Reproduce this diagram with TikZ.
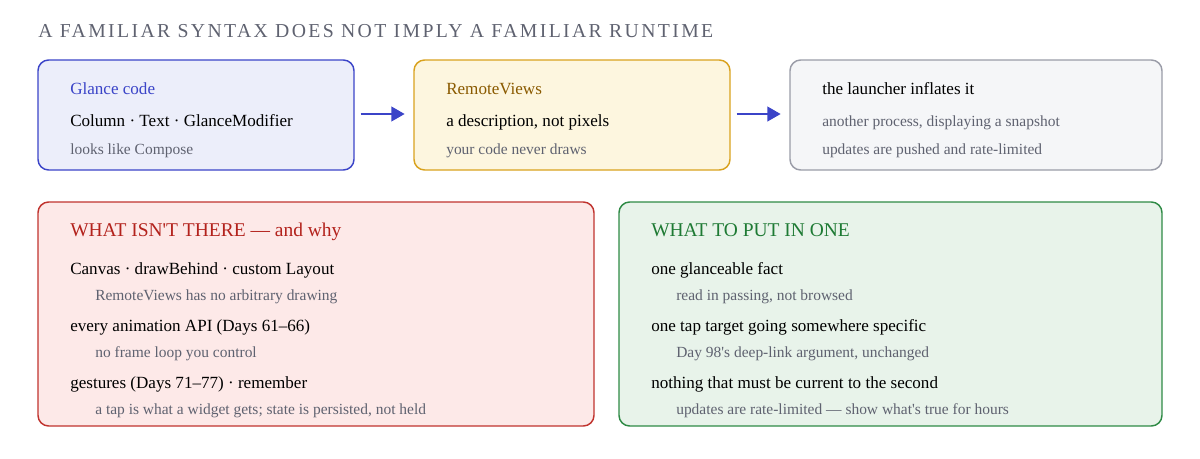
\documentclass[tikz,border=0pt]{standalone}
\usepackage{fontspec}
\setmainfont{Liberation Serif}
\newfontfamily\titlefont[LetterSpace=12]{Liberation Serif}
\usetikzlibrary{arrows.meta}
\definecolor{inkblue}{HTML}{3B44C8}
\definecolor{bluefill}{HTML}{ECEEFA}
\definecolor{inkgold}{HTML}{8A5A00}
\definecolor{goldline}{HTML}{D9A21E}
\definecolor{goldfill}{HTML}{FDF6DF}
\definecolor{greyline}{HTML}{9A9CA8}
\definecolor{greyfill}{HTML}{F5F6F8}
\definecolor{inkred}{HTML}{B3221C}
\definecolor{redline}{HTML}{C0332E}
\definecolor{redfill}{HTML}{FDE9E8}
\definecolor{inkgreen}{HTML}{1E7A34}
\definecolor{greenline}{HTML}{2E8A45}
\definecolor{greenfill}{HTML}{E8F3EA}
\definecolor{muted}{HTML}{5F6270}
\begin{document}
\begin{tikzpicture}[
        x=0.75pt, y=-0.75pt,
        box/.style={draw, line width=1.1pt, rounded corners=8pt},
        txt/.style={anchor=base west, inner sep=0pt, font=\fontsize{12.8}{14}\selectfont},
        sub/.style={anchor=base west, inner sep=0pt, font=\fontsize{11.6}{13}\selectfont, text=muted},
        arrow/.style={-{Triangle[length=10pt,width=11pt]}, line width=1.6pt, inkblue}
    ]
        \useasboundingbox (0,0) rectangle (1200,458);

        % Title
        \node[anchor=base west, inner sep=0pt, text=muted, font=\titlefont\fontsize{14.8}{16}\selectfont] (title) at (38,37) {A FAMILIAR SYNTAX DOES NOT IMPLY A FAMILIAR RUNTIME};

        % Top row
        \draw[box, inkblue, fill=bluefill] (38,60) rectangle (354,170);
        \coordinate (glance) at (354,114);
        \node[txt, text=inkblue] (g1) at (70,94) {Glance code};
        \node[txt] (g2) at (70,126) {Column · Text · GlanceModifier};
        \node[sub] (g3) at (70,154) {looks like Compose};

        \draw[box, goldline, fill=goldfill] (414,60) rectangle (730,170);
        \coordinate (remotein) at (414,114);
        \coordinate (remoteout) at (730,114);
        \node[txt, text=inkgold] (r1) at (446,94) {RemoteViews};
        \node[txt] (r2) at (446,126) {a description, not pixels};
        \node[sub] (r3) at (446,154) {your code never draws};

        \draw[box, greyline, fill=greyfill] (790,60) rectangle (1162,170);
        \coordinate (launcher) at (790,114);
        \node[txt] (l1) at (822,94) {the launcher inflates it};
        \node[sub] (l2) at (822,126) {another process, displaying a snapshot};
        \node[sub] (l3) at (822,154) {updates are pushed and rate-limited};

        \draw[arrow] ([xshift=5pt]glance) -- ([xshift=-7pt]remotein);
        \draw[arrow] ([xshift=5pt]remoteout) -- ([xshift=-7pt]launcher);

        % Bottom left
        \draw[box, redline, fill=redfill] (38,202) rectangle (594,426);
        \node[txt, text=inkred, font=\fontsize{14.6}{16}\selectfont] (w0) at (70,236) {WHAT ISN\textquotesingle T THERE — and why};
        \node[txt] (w1) at (70,274) {Canvas · drawBehind · custom Layout};
        \node[sub] (w1s) at (95,300) {RemoteViews has no arbitrary drawing};
        \node[txt] (w2) at (70,331) {every animation API (Days 61–66)};
        \node[sub] (w2s) at (95,357) {no frame loop you control};
        \node[txt] (w3) at (70,388) {gestures (Days 71–77) · remember};
        \node[sub] (w3s) at (95,414) {a tap is what a widget gets; state is persisted, not held};

        % Bottom right
        \draw[box, greenline, fill=greenfill] (619,202) rectangle (1162,426);
        \node[txt, text=inkgreen, font=\fontsize{14.6}{16}\selectfont] (p0) at (651,236) {WHAT TO PUT IN ONE};
        \node[txt] (p1) at (651,274) {one glanceable fact};
        \node[sub] (p1s) at (676,300) {read in passing, not browsed};
        \node[txt] (p2) at (651,331) {one tap target going somewhere specific};
        \node[sub] (p2s) at (676,357) {Day 98\textquotesingle s deep-link argument, unchanged};
        \node[txt] (p3) at (651,388) {nothing that must be current to the second};
        \node[sub] (p3s) at (676,414) {updates are rate-limited — show what\textquotesingle s true for hours};
    \end{tikzpicture}
\end{document}
